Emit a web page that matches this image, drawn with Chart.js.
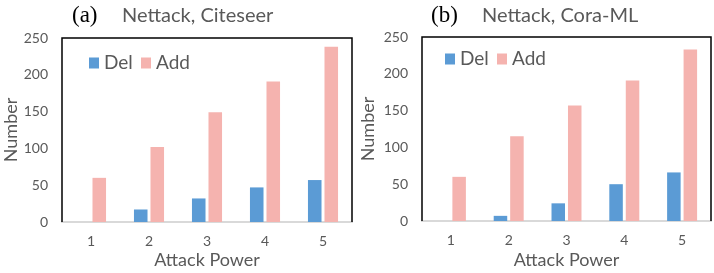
<!DOCTYPE html>
<html>
<head>
<meta charset="utf-8">
<script src="https://cdn.jsdelivr.net/npm/chart.js@4.4.1/dist/chart.umd.min.js"></script>
<style>
  body { margin: 0; background: #fff; }
  .wrap { position: absolute; top: 0; width: 357px; height: 273px; }
</style>
</head>
<body>
<div class="wrap" style="left:0"><canvas id="chartA" width="357" height="273"></canvas></div>
<div class="wrap" style="left:357px"><canvas id="chartB" width="357" height="273"></canvas></div>
<script>
// data
const categories = ['1', '2', '3', '4', '5'];
const seriesNames = ['Del', 'Add'];
const citeseerDel = [0, 17, 32, 47, 57];
const citeseerAdd = [60, 102, 149, 191, 238];
const coraDel = [0, 7, 24, 50, 66];
const coraAdd = [60, 115, 157, 191, 233];
const yTicks = [0, 50, 100, 150, 200, 250];

const delColor = '#5B9BD5';
const addColor = '#F5B3AF';
const textGray = '#595959';
const fontFamily = 'Lato, "Open Sans", sans-serif';

// box on left, top and right + legend + panel title
const panelPlugin = {
    id: 'panel',
    afterDraw(chart, args, opts) {
        const { ctx, chartArea: a } = chart;
        ctx.save();
        ctx.strokeStyle = '#000';
        ctx.lineWidth = 1.5;
        ctx.beginPath();
        ctx.moveTo(a.left, a.bottom);
        ctx.lineTo(a.left, a.top);
        ctx.lineTo(a.right, a.top);
        ctx.lineTo(a.right, a.bottom);
        ctx.stroke();

        // legend
        let x = a.left + opts.legendX;
        const y = a.top + opts.legendY;
        ctx.font = '19px ' + fontFamily;
        ctx.textBaseline = 'middle';
        chart.data.datasets.forEach(ds => {
            ctx.fillStyle = ds.backgroundColor;
            ctx.fillRect(x, y - 5.5, 10, 11);
            ctx.fillStyle = textGray;
            ctx.fillText(ds.label, x + 15, y);
            x += opts.legendStep;
        });

        // title
        ctx.textBaseline = 'alphabetic';
        ctx.fillStyle = '#000';
        ctx.font = '23px "Liberation Serif", serif';
        ctx.fillText(opts.tag, opts.tagX, 22);
        ctx.fillStyle = textGray;
        ctx.font = '20px ' + fontFamily;
        ctx.fillText(opts.title, opts.titleX, 22);
        ctx.restore();
    }
};

function makeChart(id, delData, addData, cfg) {
    return new Chart(document.getElementById(id), {
        type: 'bar',
        data: {
            labels: categories,
            datasets: [
                { label: seriesNames[0], data: delData, backgroundColor: delColor },
                { label: seriesNames[1], data: addData, backgroundColor: addColor }
            ]
        },
        options: {
            responsive: false,
            animation: false,
            layout: { padding: { top: cfg.top, right: cfg.right, left: 0, bottom: 0 } },
            datasets: { bar: { categoryPercentage: 0.57, barPercentage: 0.82 } },
            plugins: {
                legend: { display: false },
                title: { display: false },
                tooltip: { enabled: false },
                panel: cfg
            },
            scales: {
                x: {
                    grid: { display: false, drawTicks: false },
                    border: { display: true, color: '#d9d9d9', width: 2 },
                    ticks: { color: textGray, font: { family: fontFamily, size: 14 }, padding: 11 },
                    title: { display: true, text: 'Attack Power', color: textGray, font: { family: fontFamily, size: 18 }, padding: { top: 0, bottom: 2 } },
                    afterFit(scale) { scale.height = cfg.xHeight; }
                },
                y: {
                    min: 0,
                    max: 250,
                    afterBuildTicks(scale) { scale.ticks = yTicks.map(v => ({ value: v })); },
                    grid: { display: false, drawTicks: false },
                    border: { display: false },
                    ticks: { color: textGray, font: { family: fontFamily, size: 14 }, padding: 14 },
                    title: { display: true, text: 'Number', color: textGray, font: { family: fontFamily, size: 18 }, padding: { top: 0, bottom: 0 } },
                    afterFit(scale) { scale.width = cfg.yWidth; }
                }
            }
        },
        plugins: [panelPlugin]
    });
}

makeChart('chartA', citeseerDel, citeseerAdd, {
    top: 38, right: 5, xHeight: 51, yWidth: 62,
    legendX: 27, legendY: 25, legendStep: 52,
    tag: '(a)', tagX: 72, title: 'Nettack, Citeseer', titleX: 122
});

makeChart('chartB', coraDel, coraAdd, {
    top: 37, right: 3, xHeight: 52, yWidth: 65,
    legendX: 23, legendY: 22, legendStep: 52,
    tag: '(b)', tagX: 74, title: 'Nettack, Cora-ML', titleX: 125
});
</script>
</body>
</html>
